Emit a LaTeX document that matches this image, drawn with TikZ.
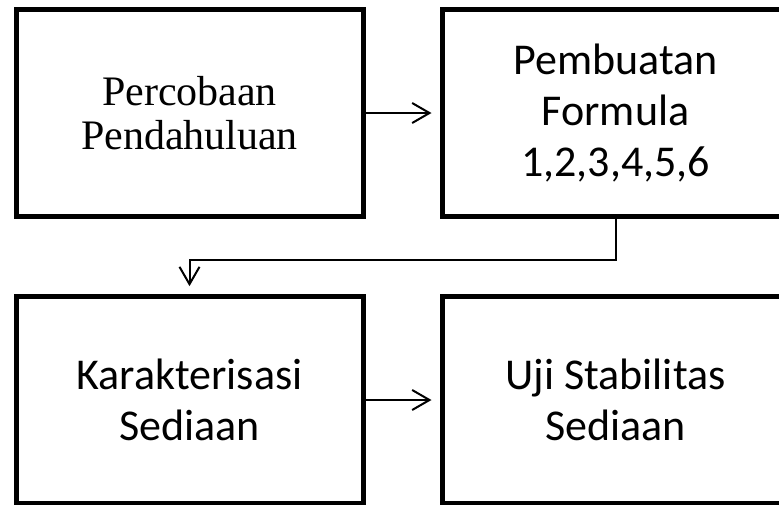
\documentclass[tikz,border=0pt]{standalone}
\usepackage{fontspec}
\setmainfont{Carlito}
\newfontfamily\timesfont{Liberation Serif}
\usetikzlibrary{arrows.meta, positioning}

\tikzset{
    stagebox/.style={draw, line width=3.75pt, minimum width=260.25pt, minimum height=155pt,
        align=center, inner sep=0pt, font=\fontsize{33}{38}\selectfont},
    flowline/.style={line width=1.5pt, ->, shorten >=6pt}
}

\begin{document}
\begin{tikzpicture}[x=0.75pt, y=-0.75pt, >={Straight Barb[length=13pt, width=15pt]}]
    \useasboundingbox (0,0) rectangle (779,504);
    
    % Top row
    \node[stagebox, font=\timesfont\fontsize{31.5}{33.5}\selectfont] (pend) at (189.5,113) {Percobaan\\Pendahuluan};
    \node[stagebox] (form) at (615.5,113) {Pembuatan\\Formula\\1,2,3,4,5,6};
    
    % Bottom row
    \node[stagebox] (kar) at (189.5,400) {Karakterisasi\\Sediaan};
    \node[stagebox] (uji) at (615.5,400) {Uji Stabilitas\\Sediaan};
    
    % Connectors
    \draw[flowline] (pend) -- (form);
    \draw[flowline] (form.south) -- ++(0,41) -| (kar.north);
    \draw[flowline] (kar) -- (uji);
\end{tikzpicture}
\end{document}
